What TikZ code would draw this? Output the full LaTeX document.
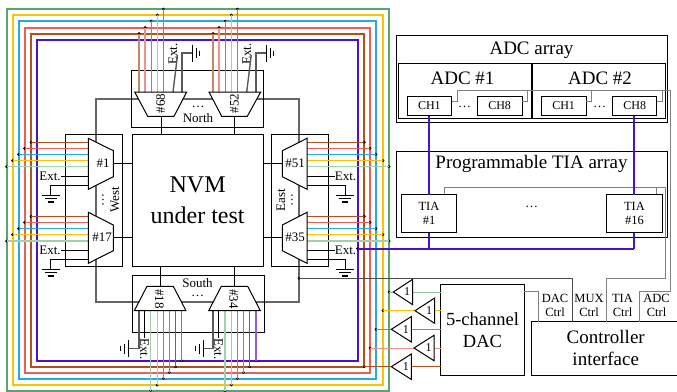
\documentclass[tikz,border=0pt]{standalone}
\usepackage{fontspec}
\setmainfont{Liberation Serif}
\usetikzlibrary{calc}
\definecolor{cg}{HTML}{5BA56B}\definecolor{cy}{HTML}{FFC000}\definecolor{cb}{HTML}{27A9E1}
\definecolor{cr}{HTML}{E8605A}\definecolor{cn}{HTML}{B0521E}\definecolor{cp}{HTML}{4B12C8}
\definecolor{lg}{HTML}{A4CFA8}\definecolor{lr}{HTML}{EA9490}\definecolor{ln}{HTML}{C08A66}\definecolor{lp}{HTML}{9060E0}
\tikzset{
 ring/.style={line width=2pt,miter limit=10},
 wire/.style={line width=.9pt},
 fatwire/.style={line width=1.5pt},
 blk/.style={draw=black,line width=.9pt},
 ctrl/.style={draw=black!50,line width=.9pt},
 frameline/.style={draw=black!60,line width=2pt},
 gndline/.style={draw=black!65,line width=1.4pt},
 tap/.style={circle,fill=black,inner sep=0,minimum size=3pt},
 boxn/.style={draw=black,line width=1pt,inner sep=0,outer sep=0,align=center},
 buf/.style={draw=black,line width=1pt,fill=white,line join=miter},
 trapz/.style={draw=black,line width=1pt,fill=white},
 lab/.style={inner sep=0,font=\fontsize{13}{14}\selectfont},
 big/.style={inner sep=0,align=center,font=\fontsize{19}{22}\selectfont},
}
% name, x1, y1, x2, y2, text, extra
\newcommand\bx[7][]{\node[boxn,minimum width={(#4-#2)*1pt},minimum height={(#5-#3)*1pt},#1] (#6) at ({(#2+#4)/2},{(#3+#5)/2}) {#7};}
% name, four corners, text position, rotation, text
\newcommand\trp[8]{\draw[trapz] (#2)--(#3)--(#4)--(#5)--cycle; \node[lab,rotate=#7] (#1) at (#6) {#8};}
% style, name, start, tap end (a dot on the rail)
\newcommand\stem[4]{\coordinate (#2a) at (#3); \node[tap] (#2b) at (#4) {}; \draw[#1] (#2a) -- (#2b.center);}
% ground symbols: downward at x,y ; rightward ; leftward
\newcommand\gndD[2]{\draw[line width=1pt] ({#1-9},#2)--({#1+9},#2) ({#1-6},{#2+3.5})--({#1+6},{#2+3.5}); \draw[line width=1.2pt] ({#1-3},{#2+7})--({#1+3},{#2+7});}
\newcommand\gndR[2]{\draw[line width=1pt] (#1,{#2-8.5})--(#1,{#2+8.5}) ({#1+4},{#2-5})--({#1+4},{#2+5}); \draw[line width=1.2pt] ({#1+7.5},{#2-2.5})--({#1+7.5},{#2+2.5});}
\newcommand\gndL[2]{\draw[line width=1pt] (#1,{#2-8.5})--(#1,{#2+8.5}) ({#1-4},{#2-5})--({#1-4},{#2+5}); \draw[line width=1.2pt] ({#1-7.5},{#2-2.5})--({#1-7.5},{#2+2.5});}
\begin{document}
\begin{tikzpicture}[x=1pt,y=-1pt]
\useasboundingbox (0,0) rectangle (677,391);
% rails
\draw[ring,cg] (6.5,390.5) -- (6.5,9) -- (389,9) -- (389,390.5) -- cycle;
\draw[ring,cy] (12.5,385) rectangle (383,15);
\draw[ring,cb] (18.5,378.5) rectangle (376,21);
\draw[ring,cr] (24.5,372.5) rectangle (370,27.5);
\draw[ring,cn] (31,366.7) rectangle (364.3,33.5);
\draw[ring,cp] (37,360.5) rectangle (357.5,40);
% gray frame
\coordinate (fa) at (95.5,99); \coordinate (fb) at (299,302);
\draw[frameline] (fa) rectangle (fb);
% centre
\bx[fill=white,font=\fontsize{24}{31}\selectfont]{132}{134.3}{263.3}{266}{nvm}{NVM\\under test}
% groups
\node[boxn,minimum width=132pt,minimum height=57.3pt] (north) at (197,98.65) {};
\node[boxn,minimum width=132pt,minimum height=57.7pt] (south) at (198,303.85) {};
\node[boxn,minimum width=57.3pt,minimum height=131.7pt] (west) at (93.65,200.15) {};
\node[boxn,minimum width=57pt,minimum height=131.7pt] (east) at (300.2,200.15) {};
\node[lab] (nt) at (198,118.5) {North};
\node[lab] (nd) at (198,107) {…};
\node[lab] (st) at (197.5,283) {South};
\node[lab] (sd) at (197.5,295.5) {…};
\node[lab,rotate=90] (wt) at (115,200) {West};
\node[lab,rotate=90] (wd) at (103,200) {…};
\node[lab,rotate=90] (et) at (281,200) {East};
\node[lab,rotate=90] (ed) at (292,200) {…};
% stems from multiplexers to the rails
\foreach \n/\xa/\col/\w/\yy in {a/139/ln/fatwire/33.5,b/145/lr/fatwire/27.5,c/151/cb/wire/21,d/157.3/cy/wire/15,e/163.3/cg/wire/9}{
  \stem{\w,\col}{t68\n}{\xa,92}{\xa,\yy}}
\foreach \n/\xa/\col/\w/\yy in {a/213/ln/fatwire/33.5,b/219/lr/fatwire/27.5,c/225/cb/wire/21,d/231.3/cy/wire/15,e/237.3/cg/wire/9}{
  \stem{\w,\col}{t52\n}{\xa,92}{\xa,\yy}}
\foreach \n/\xa/\col/\w/\yy in {a/150.7/lg/fatwire/390.5,b/157/cy/wire/385,c/163.3/cb/wire/378.5,d/169.3/cr/wire/372.5,e/175.7/cn/wire/366.7,f/181.7/lp/fatwire/360.5}{
  \stem{\w,\col}{t18\n}{\xa,311}{\xa,\yy}}
\foreach \n/\xa/\col/\w/\yy in {a/225/lg/fatwire/390.5,b/231.3/cy/wire/385,c/237.3/cb/wire/378.5,d/243.7/cr/wire/372.5,e/249.7/cn/wire/366.7,f/256/lp/fatwire/360.5}{
  \stem{\w,\col}{t34\n}{\xa,311}{\xa,\yy}}
\foreach \n/\yo/\col/\w/\xx in {a/142.3/cn/wire/31,b/148.3/cr/wire/24.5,c/154.3/cb/wire/18.5,d/160.7/cy/wire/12.5,e/166.7/lg/fatwire/6.5}{
  \stem{\w,\col}{t1\n}{88,\yo}{\xx,\yo}}
\foreach \n/\yo/\col/\w/\xx in {a/216.3/cn/wire/31,b/222.3/cr/wire/24.5,c/228.7/cb/wire/18.5,d/234.7/cy/wire/12.5,e/241/lg/fatwire/6.5}{
  \stem{\w,\col}{t17\n}{88,\yo}{\xx,\yo}}
\foreach \n/\yo/\col/\w/\xx in {a/142.3/cn/wire/364.3,b/148.3/cr/wire/370,c/154.3/cb/wire/376,d/160.7/cy/wire/383,e/166.7/lg/fatwire/389}{
  \stem{\w,\col}{t51\n}{307,\yo}{\xx,\yo}}
\foreach \n/\yo/\col/\w/\xx in {a/216.3/cn/wire/364.3,b/222.3/cr/wire/370,c/228.7/cb/wire/376,d/234.7/cy/wire/383,e/241/lg/fatwire/389}{
  \stem{\w,\col}{t35\n}{307,\yo}{\xx,\yo}}
% Ext. labels
\node[lab,rotate=90] (e68) at (173,54) {Ext.};
\node[lab,rotate=90] (e52) at (246.7,54) {Ext.};
\node[lab,rotate=-90] (e18) at (144.5,349) {Ext.};
\node[lab,rotate=-90] (e34) at (218.5,349) {Ext.};
\node[lab] (e1) at (50,176) {Ext.};
\node[lab] (e17) at (50,250) {Ext.};
\node[lab] (e51) at (345.5,176) {Ext.};
\node[lab] (e35) at (345.5,250) {Ext.};
\draw[gndline] (e68.south) ++(0,1) -- (173,92);
\draw[gndline] (e52.south) ++(0,1) -- (246.7,92);
\draw[blk] (144.7,311) -- (144.7,338);
\draw[blk] (218.3,311) -- (218.3,338);
\draw[blk] (88,176) -- (e1.east);
\draw[blk] (88,250) -- (e17.east);
\draw[blk] (307,176) -- (e51.west);
\draw[blk] (307,250) -- (e35.west);
% grounds
\draw[gndline] (182,92) |- (192,53); \gndR{192}{53}
\draw[gndline] (256,92) |- (266,53); \gndR{266}{53}
\draw[gndline] (139,311) |- (128.3,348.5); \gndL{128.3}{348.5}
\draw[gndline] (213,311) |- (203.3,348.5); \gndL{203.3}{348.5}
\draw[blk] (88,185.7) -| (50.7,195); \gndD{50.7}{195}
\draw[blk] (88,259.7) -| (50.7,269); \gndD{50.7}{269}
\draw[blk] (307,185.7) -| (345,195); \gndD{345}{195}
\draw[blk] (307,259.7) -| (345,269); \gndD{345}{269}
% multiplexers
\trp{m68}{134.7,92}{186.7,92}{174,116.3}{147.7,116.3}{160.5,103.5}{90}{\#68}
\trp{m52}{209,92}{260.7,92}{247.3,116.3}{221.7,116.3}{234.5,103.5}{90}{\#52}
\trp{m18}{134.3,310.7}{186,310.7}{173.3,286.3}{147,286.3}{159.5,299}{-90}{\#18}
\trp{m34}{208.7,310.7}{260.3,310.7}{247.7,286.3}{221.3,286.3}{233.5,299}{-90}{\#34}
\trp{m1}{88.3,138.3}{113.3,150.7}{113.3,176.7}{88.3,189.3}{103,163}{0}{\#1}
\trp{m17}{88.3,212.3}{113.3,225}{113.3,250.7}{88.3,263.3}{102,237}{0}{\#17}
\trp{m51}{307,138.3}{282.3,150.7}{282.3,176.7}{307,189.3}{295,163}{0}{\#51}
\trp{m35}{307,212.3}{282.3,225}{282.3,250.7}{307,263.3}{295,237}{0}{\#35}
\draw[blk] (161,116.3) -- (161,134.3);
\draw[blk] (234.3,116.3) -- (234.3,134.3);
\draw[blk] (160.7,266) -- (160.7,286.3);
\draw[blk] (234.3,266) -- (234.3,286.3);
\draw[blk] (113.3,163.7) -- (nvm.west |- 0,163.7);
\draw[blk] (113.3,237.7) -- (nvm.west |- 0,237.7);
\draw[blk] (282.3,163.7) -- (nvm.east |- 0,163.7);
\draw[blk] (282.3,237.7) -- (nvm.east |- 0,237.7);
% ADC array
\node[boxn,minimum width=270.6pt,minimum height=86.6pt] (adc) at (532,79) {};
\node[big] (adct) at (531.5,50) {ADC array};
\bx{398}{63.3}{531}{118.7}{adca}{}
\bx{532.7}{63.3}{665.3}{118.7}{adcb}{}
\node[big] (adcat) at (462.5,78) {ADC \#1};
\node[big] (adcbt) at (600,78) {ADC \#2};
\bx[font=\fontsize{12}{14}\selectfont]{407}{96.3}{451.7}{115.7}{a1}{CH1}
\bx[font=\fontsize{12}{14}\selectfont]{477.3}{96.3}{522}{115.7}{a8}{CH8}
\bx[font=\fontsize{12}{14}\selectfont]{541.3}{96.3}{586}{115.7}{b1}{CH1}
\bx[font=\fontsize{12}{14}\selectfont]{612.7}{96.3}{656.7}{115.7}{b8}{CH8}
\node[lab] (ad1) at (464.5,107) {…};
\node[lab] (ad2) at (599.5,107) {…};
% TIA array
\node[boxn,minimum width=271.3pt,minimum height=85.6pt] (tia) at (531.65,194.5) {};
\node[big] (tiat) at (531.5,164) {Programmable TIA array};
% control lines
\coordinate (j1) at (457.3,90); \coordinate (j2) at (527.7,90);
\coordinate (j3) at (591.3,90); \coordinate (j4) at (662.7,90);
\coordinate (adcr) at (670.7,90);
\draw[ctrl] ([yshift=5pt]a1.east) -| (j1) -- (adcr);
\draw[ctrl] ([yshift=5pt]a8.east) -| (j2);
\draw[ctrl] ([yshift=5pt]b1.east) -| (j3);
\draw[ctrl] ([yshift=5pt]b8.east) -| (j4);
% TIA cells
\coordinate (tr) at (665.3,187);
\draw[ctrl] (444,195) |- (tr);
\draw[ctrl] (656,195) -- (656,187);
\bx[font=\fontsize{12.5}{14}\selectfont,fill=white]{401.3}{194.5}{456.7}{232.7}{t1}{TIA\\\#1}
\bx[font=\fontsize{12.5}{14}\selectfont,fill=white]{606.7}{194.5}{662.3}{232.7}{t16}{TIA\\\#16}
\node[lab] (td) at (531.7,207) {…};
% read-out wires
\node[tap,minimum size=3.5pt] (rd) at (357.7,248.7) {};
\coordinate (pa) at (429.3,248.7); \coordinate (pb) at (634.3,248.7);
\draw[cp,line width=1.7pt] (rd.center) -- (pb);
\draw[cp,line width=1.7pt] (a1.south -| pa) -- (t1.north -| pa);
\draw[cp,line width=1.7pt] (t1.south -| pa) -- (pa);
\draw[cp,line width=1.7pt] (b8.south -| pb) -- (t16.north -| pb);
\draw[cp,line width=1.7pt] (t16.south -| pb) -- (pb);
% DAC and controller
\bx[fill=white,font=\fontsize{18.5}{22}\selectfont]{440.7}{284}{524.3}{375.7}{dac}{5-channel\\DAC}
\node[boxn,minimum width=150pt,minimum height=54pt,anchor=north west,fill=white] (ctl) at (531.7,321.7) {};
\node[big,align=center] (ctlt) at (605.7,347.5) {Controller\\interface};
\coordinate (c1) at (538,321.7); \coordinate (c2) at (572,321.7); \coordinate (c3) at (606.7,321.7); \coordinate (c4) at (639,321.7);
\node[tap] (fd) at (299,278.3) {};
\draw[ctrl] (c1) |- (dac.east |- 0,291.7);
\draw[ctrl,draw=black!70] (c2) |- (fd.center);
\draw[ctrl] (c3) |- (665.3,278.3) -- (tr);
\draw[ctrl] (c4) |- (670.7,291.2) -- (adcr);
\node[lab,font=\fontsize{12.5}{14}\selectfont,align=center] (l1) at (555,305.5) {DAC\\Ctrl};
\node[lab,font=\fontsize{12.5}{14}\selectfont,align=center] (l2) at (589,305.5) {MUX\\Ctrl};
\node[lab,font=\fontsize{12.5}{14}\selectfont,align=center] (l3) at (622.5,305.5) {TIA\\Ctrl};
\node[lab,font=\fontsize{12.5}{14}\selectfont,align=center] (l4) at (656.5,305.5) {ADC\\Ctrl};
% buffers
\foreach \n/\tx/\ty/\bxx/\xx/\col in {a/393.3/292/412.7/389/cg!70,b/415/310.7/434.7/383/cy,c/391.3/329.3/411.3/376/cb,d/414/348/434/370/lr,e/391.3/366.7/411.3/364.3/cn}{
  \node[tap] (r\n) at (\xx,\ty) {};
  \draw[wire,\col] (r\n.center) -- (\tx,\ty);
  \draw[wire,\col] (\bxx,\ty) -- (dac.west |- 0,\ty);
  \draw[buf] (\tx,\ty) -- (\bxx,{\ty-12.7}) -- (\bxx,{\ty+12.7}) -- cycle;
  \node[lab,font=\fontsize{12}{14}\selectfont] (u\n) at ({\bxx-5.5},\ty) {1};
}
\end{tikzpicture}
\end{document}
